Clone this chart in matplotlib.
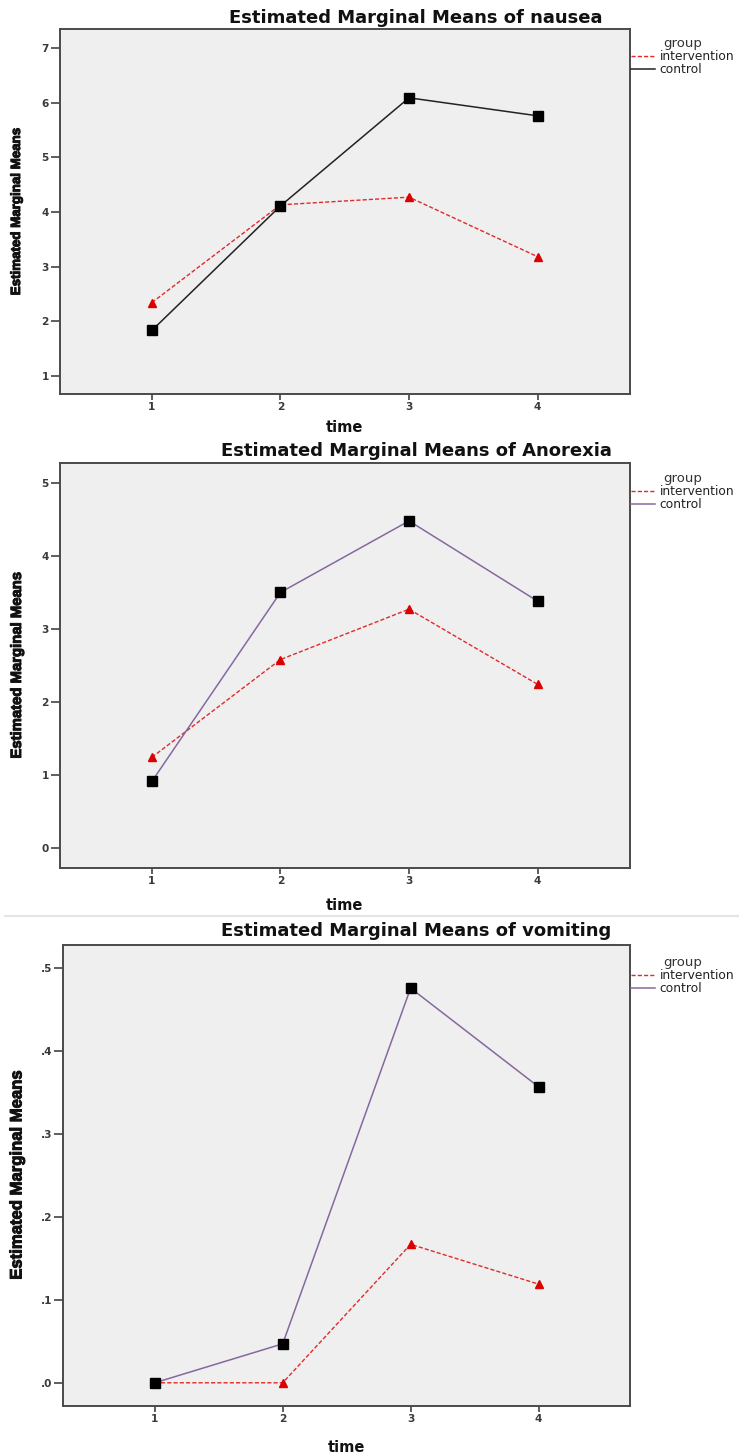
from matplotlib import pyplot as plt
from matplotlib.lines import Line2D
import matplotlib.patheffects as pe
import numpy as np

# data
time = [1, 2, 3, 4]
groups = ['intervention', 'control']

nausea_intervention = [2.34, 4.13, 4.27, 3.18]
nausea_control = [1.83, 4.11, 6.09, 5.76]

anorexia_intervention = [1.24, 2.58, 3.27, 2.24]
anorexia_control = [0.91, 3.50, 4.48, 3.38]

vomiting_intervention = [0.0, 0.0, 0.167, 0.119]
vomiting_control = [0.0, 0.047, 0.476, 0.357]

titles = ['Estimated Marginal Means of nausea',
          'Estimated Marginal Means of Anorexia',
          'Estimated Marginal Means of vomiting']

W, H = 739, 1456
fig = plt.figure(figsize=(W / 100, H / 100), dpi=100)


def px_axes(left, right, top, bottom):
    return fig.add_axes([left / W, 1 - bottom / H, (right - left) / W, (bottom - top) / H])


def fy(y):
    return 1 - y / H


red = '#e02a2a'
purple = '#86689f'

panels = [
    # box (l, r, t, b), ylim, yticks, control colour, title y, time y, legend top, ylabel size
    dict(box=(60, 629.5, 29, 394), ylim=(0.665, 7.35), yticks=[1, 2, 3, 4, 5, 6, 7],
         fmt='int', ccol='#222222', ty=18, xy=428, ly=37, ys=9.6,
         inter=nausea_intervention, ctrl=nausea_control),
    dict(box=(60, 629.5, 463.3, 867.7), ylim=(-0.274, 5.27), yticks=[0, 1, 2, 3, 4, 5],
         fmt='int', ccol=purple, ty=451, xy=906, ly=472, ys=10.7,
         inter=anorexia_intervention, ctrl=anorexia_control),
    dict(box=(63.3, 630, 945, 1406), ylim=(-0.028, 0.528), yticks=[0, .1, .2, .3, .4, .5],
         fmt='frac', ccol=purple, ty=931, xy=1448, ly=956, ys=12.0,
         inter=vomiting_intervention, ctrl=vomiting_control),
]

for i, p in enumerate(panels):
    l, r, t, b = p['box']
    ax = px_axes(l, r, t, b)
    ax.set_facecolor('#efefef')

    li, = ax.plot(time, p['inter'], color=red, lw=1.0, dashes=(3, 1.5),
                  marker='^', ms=5.5, mfc='#dd0000', mec='#dd0000', label=groups[0])
    lc, = ax.plot(time, p['ctrl'], color=p['ccol'], lw=1.1,
                  marker='s', ms=6.5, mfc='black', mec='black', label=groups[1])

    ax.set_xlim(0.285, 4.715)
    ax.set_ylim(*p['ylim'])
    ax.set_xticks(time)
    ax.set_xticklabels([str(t_) for t_ in time])
    ax.set_yticks(p['yticks'])
    if p['fmt'] == 'frac':
        ax.set_yticklabels(['.' + f'{v:.1f}'.split('.')[1] for v in p['yticks']])
    else:
        ax.set_yticklabels([f'{v:.0f}' for v in p['yticks']])

    for s in ax.spines.values():
        s.set_color('#4a4a4a')
        s.set_linewidth(1.4)
    ax.tick_params(axis='y', direction='out', length=6.5, width=1.1, pad=1.5,
                   labelsize=7.6, colors='#333333')
    ax.tick_params(axis='x', direction='out', length=4.5, width=1.1, pad=1.5,
                   labelsize=7.6, colors='#333333')
    for lab in ax.get_xticklabels() + ax.get_yticklabels():
        lab.set_fontweight('bold')
        lab.set_color('#3a3a3a')

    # title, axis labels
    fig.text(416 / W, fy(p['ty']), titles[i], ha='center', va='center',
             fontsize=13, fontweight='bold', color='#111111')
    fig.text((l + r) / 2 / W, fy(p['xy']), 'time', ha='center', va='center',
             fontsize=10.5, fontweight='bold', color='#111111')
    yl = fig.text(17 / W, fy((t + b) / 2), 'Estimated Marginal Means', rotation=90,
                  ha='center', va='center', fontsize=p['ys'], fontweight='bold',
                  family=['Liberation Sans', 'DejaVu Sans'], color='#111111')
    yl.set_path_effects([pe.withStroke(linewidth=0.7, foreground='#111111')])

    leg = ax.legend(handles=[li, lc], title='group', loc='upper left',
                    bbox_to_anchor=(631 / W, fy(p['ly'])), bbox_transform=fig.transFigure,
                    frameon=False, borderpad=0, borderaxespad=0, fontsize=8.8,
                    title_fontsize=9.5, handlelength=2.0, handletextpad=0.35,
                    labelspacing=0.0)
    for h in leg.get_lines():
        h.set_marker('None')
    leg.get_title().set_color('#333333')
    for txt in leg.get_texts():
        txt.set_color('#222222')

# thin separator between the second and third screenshots
fig.add_artist(Line2D([5 / W, 1], [fy(916), fy(916)], color='#e4e4e4', lw=1.5))

plt.savefig('out.png', dpi=100)
